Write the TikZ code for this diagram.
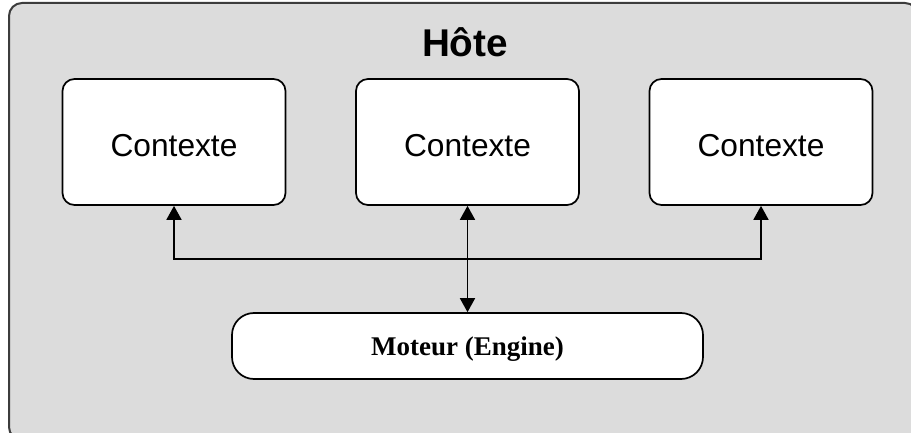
\documentclass[tikz,border=0pt]{standalone}
\usepackage{fontspec}
\setmainfont{Liberation Sans}
\newfontfamily\serifbold{Liberation Serif}
\usetikzlibrary{arrows.meta}
\definecolor{hostgrey}{RGB}{220,220,220}
\definecolor{hostline}{RGB}{60,60,60}
\begin{document}
\begin{tikzpicture}[x=1pt,y=-1pt,
  hostbox/.style={draw=hostline, line width=2pt, fill=hostgrey, rounded corners=13pt},
  ctxbox/.style={draw=black, line width=1.7pt, fill=white, rounded corners=12pt,
    minimum width=223pt, minimum height=126pt, inner sep=0pt,
    text height=30pt, text depth=0pt, font=\fontsize{31.7}{36}\selectfont},
  enginebox/.style={draw=black, line width=1.7pt, fill=white, rounded corners=22pt,
    minimum width=471pt, minimum height=66pt, inner sep=0pt,
    text height=18pt, text depth=0pt, font=\serifbold\bfseries\fontsize{27}{30}\selectfont},
  link/.style={draw=black, line width=1.8pt},
  tipend/.style={-{Triangle[width=15pt,length=14pt]}},
  tipboth/.style={{Triangle[width=15pt,length=14pt]}-{Triangle[width=15pt,length=14pt]}}
]
\useasboundingbox (0,0) rectangle (911,433);
\clip (0,0) rectangle (911,433);
\fill[white] (0,0) rectangle (911,433);
\draw[hostbox] (9,3) rectangle (918,440);
\node[anchor=base, font=\bfseries\fontsize{38.7}{42}\selectfont] (host) at (465,57) {Hôte};
\node[ctxbox] (c1) at (174,142) {Contexte};
\node[ctxbox] (c2) at (467.5,142) {Contexte};
\node[ctxbox] (c3) at (761,142) {Contexte};
\node[enginebox] (eng) at (467.5,346) {Moteur (Engine)};
\coordinate (j) at (467.5,259);
\draw[link, tipend] (j) -| (c1.south);
\draw[link, tipend] (j) -| (c3.south);
\draw[link, tipboth] (c2.south) -- (eng.north);
\end{tikzpicture}
\end{document}
